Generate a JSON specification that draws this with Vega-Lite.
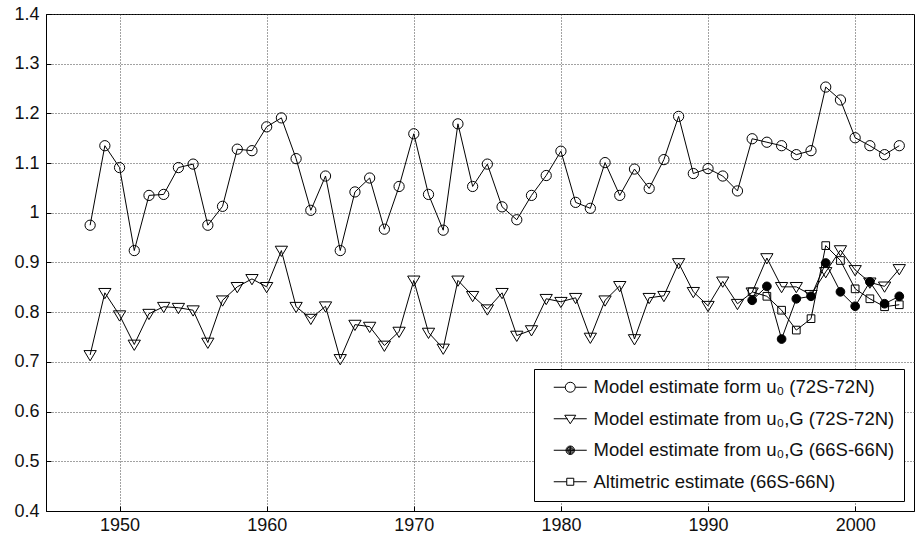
{
  "$schema": "https://vega.github.io/schema/vega-lite/v6.json",
  "width": 868,
  "height": 497,
  "autosize": {"type": "none"},
  "padding": {"left": 46, "top": 14, "right": 4, "bottom": 29},
  "background": "white",
  "config": {
    "font": "Liberation Sans",
    "view": {"stroke": "black", "strokeWidth": 1},
    "axis": {
      "domainColor": "black",
      "tickColor": "black",
      "labelColor": "#111",
      "labelFont": "Liberation Sans",
      "labelFontSize": 18,
      "gridColor": "#444",
      "gridDash": [1, 2],
      "gridWidth": 1,
      "title": null
    }
  },
  "data": {
    "values": [
      {"year": 1948, "v": 0.975, "s": "a"}, {"year": 1949, "v": 1.135, "s": "a"}, {"year": 1950, "v": 1.091, "s": "a"}, {"year": 1951, "v": 0.924, "s": "a"},
      {"year": 1952, "v": 1.035, "s": "a"}, {"year": 1953, "v": 1.037, "s": "a"}, {"year": 1954, "v": 1.091, "s": "a"}, {"year": 1955, "v": 1.098, "s": "a"},
      {"year": 1956, "v": 0.975, "s": "a"}, {"year": 1957, "v": 1.013, "s": "a"}, {"year": 1958, "v": 1.128, "s": "a"}, {"year": 1959, "v": 1.125, "s": "a"},
      {"year": 1960, "v": 1.173, "s": "a"}, {"year": 1961, "v": 1.191, "s": "a"}, {"year": 1962, "v": 1.109, "s": "a"}, {"year": 1963, "v": 1.005, "s": "a"},
      {"year": 1964, "v": 1.074, "s": "a"}, {"year": 1965, "v": 0.924, "s": "a"}, {"year": 1966, "v": 1.042, "s": "a"}, {"year": 1967, "v": 1.070, "s": "a"},
      {"year": 1968, "v": 0.967, "s": "a"}, {"year": 1969, "v": 1.053, "s": "a"}, {"year": 1970, "v": 1.159, "s": "a"}, {"year": 1971, "v": 1.037, "s": "a"},
      {"year": 1972, "v": 0.965, "s": "a"}, {"year": 1973, "v": 1.179, "s": "a"}, {"year": 1974, "v": 1.053, "s": "a"}, {"year": 1975, "v": 1.098, "s": "a"},
      {"year": 1976, "v": 1.012, "s": "a"}, {"year": 1977, "v": 0.986, "s": "a"}, {"year": 1978, "v": 1.035, "s": "a"}, {"year": 1979, "v": 1.075, "s": "a"},
      {"year": 1980, "v": 1.124, "s": "a"}, {"year": 1981, "v": 1.021, "s": "a"}, {"year": 1982, "v": 1.009, "s": "a"}, {"year": 1983, "v": 1.101, "s": "a"},
      {"year": 1984, "v": 1.035, "s": "a"}, {"year": 1985, "v": 1.088, "s": "a"}, {"year": 1986, "v": 1.049, "s": "a"}, {"year": 1987, "v": 1.107, "s": "a"},
      {"year": 1988, "v": 1.194, "s": "a"}, {"year": 1989, "v": 1.079, "s": "a"}, {"year": 1990, "v": 1.089, "s": "a"}, {"year": 1991, "v": 1.074, "s": "a"},
      {"year": 1992, "v": 1.044, "s": "a"}, {"year": 1993, "v": 1.149, "s": "a"}, {"year": 1994, "v": 1.142, "s": "a"}, {"year": 1995, "v": 1.135, "s": "a"},
      {"year": 1996, "v": 1.117, "s": "a"}, {"year": 1997, "v": 1.125, "s": "a"}, {"year": 1998, "v": 1.253, "s": "a"}, {"year": 1999, "v": 1.227, "s": "a"},
      {"year": 2000, "v": 1.151, "s": "a"}, {"year": 2001, "v": 1.135, "s": "a"}, {"year": 2002, "v": 1.117, "s": "a"}, {"year": 2003, "v": 1.135, "s": "a"},

      {"year": 1948, "v": 0.714, "s": "b"}, {"year": 1949, "v": 0.839, "s": "b"}, {"year": 1950, "v": 0.794, "s": "b"}, {"year": 1951, "v": 0.735, "s": "b"},
      {"year": 1952, "v": 0.797, "s": "b"}, {"year": 1953, "v": 0.811, "s": "b"}, {"year": 1954, "v": 0.809, "s": "b"}, {"year": 1955, "v": 0.804, "s": "b"},
      {"year": 1956, "v": 0.739, "s": "b"}, {"year": 1957, "v": 0.824, "s": "b"}, {"year": 1958, "v": 0.851, "s": "b"}, {"year": 1959, "v": 0.867, "s": "b"},
      {"year": 1960, "v": 0.851, "s": "b"}, {"year": 1961, "v": 0.924, "s": "b"}, {"year": 1962, "v": 0.811, "s": "b"}, {"year": 1963, "v": 0.787, "s": "b"},
      {"year": 1964, "v": 0.812, "s": "b"}, {"year": 1965, "v": 0.706, "s": "b"}, {"year": 1966, "v": 0.775, "s": "b"}, {"year": 1967, "v": 0.771, "s": "b"},
      {"year": 1968, "v": 0.733, "s": "b"}, {"year": 1969, "v": 0.761, "s": "b"}, {"year": 1970, "v": 0.864, "s": "b"}, {"year": 1971, "v": 0.759, "s": "b"},
      {"year": 1972, "v": 0.727, "s": "b"}, {"year": 1973, "v": 0.864, "s": "b"}, {"year": 1974, "v": 0.833, "s": "b"}, {"year": 1975, "v": 0.806, "s": "b"},
      {"year": 1976, "v": 0.839, "s": "b"}, {"year": 1977, "v": 0.753, "s": "b"}, {"year": 1978, "v": 0.764, "s": "b"}, {"year": 1979, "v": 0.827, "s": "b"},
      {"year": 1980, "v": 0.821, "s": "b"}, {"year": 1981, "v": 0.829, "s": "b"}, {"year": 1982, "v": 0.749, "s": "b"}, {"year": 1983, "v": 0.824, "s": "b"},
      {"year": 1984, "v": 0.853, "s": "b"}, {"year": 1985, "v": 0.746, "s": "b"}, {"year": 1986, "v": 0.829, "s": "b"}, {"year": 1987, "v": 0.833, "s": "b"},
      {"year": 1988, "v": 0.899, "s": "b"}, {"year": 1989, "v": 0.841, "s": "b"}, {"year": 1990, "v": 0.813, "s": "b"}, {"year": 1991, "v": 0.862, "s": "b"},
      {"year": 1992, "v": 0.817, "s": "b"}, {"year": 1993, "v": 0.840, "s": "b"}, {"year": 1994, "v": 0.909, "s": "b"}, {"year": 1995, "v": 0.851, "s": "b"},
      {"year": 1996, "v": 0.851, "s": "b"}, {"year": 1997, "v": 0.835, "s": "b"}, {"year": 1998, "v": 0.881, "s": "b"}, {"year": 1999, "v": 0.925, "s": "b"},
      {"year": 2000, "v": 0.885, "s": "b"}, {"year": 2001, "v": 0.860, "s": "b"}, {"year": 2002, "v": 0.852, "s": "b"}, {"year": 2003, "v": 0.887, "s": "b"},

      {"year": 1993, "v": 0.824, "s": "c"}, {"year": 1994, "v": 0.852, "s": "c"}, {"year": 1995, "v": 0.746, "s": "c"}, {"year": 1996, "v": 0.827, "s": "c"},
      {"year": 1997, "v": 0.832, "s": "c"}, {"year": 1998, "v": 0.899, "s": "c"}, {"year": 1999, "v": 0.841, "s": "c"}, {"year": 2000, "v": 0.812, "s": "c"},
      {"year": 2001, "v": 0.861, "s": "c"}, {"year": 2002, "v": 0.817, "s": "c"}, {"year": 2003, "v": 0.832, "s": "c"},

      {"year": 1993, "v": 0.841, "s": "d"}, {"year": 1994, "v": 0.832, "s": "d"}, {"year": 1995, "v": 0.804, "s": "d"}, {"year": 1996, "v": 0.764, "s": "d"},
      {"year": 1997, "v": 0.787, "s": "d"}, {"year": 1998, "v": 0.934, "s": "d"}, {"year": 1999, "v": 0.904, "s": "d"}, {"year": 2000, "v": 0.847, "s": "d"},
      {"year": 2001, "v": 0.827, "s": "d"}, {"year": 2002, "v": 0.811, "s": "d"}, {"year": 2003, "v": 0.815, "s": "d"}
    ]
  },
  "encoding": {
    "x": {
      "field": "year",
      "type": "quantitative",
      "scale": {"domain": [1945, 2004], "nice": false, "zero": false},
      "axis": {
        "values": [1950, 1960, 1970, 1980, 1990, 2000],
        "format": "d",
        "tickSize": -5,
        "labelPadding": 10,
        "grid": true
      }
    },
    "y": {
      "field": "v",
      "type": "quantitative",
      "scale": {"domain": [0.4, 1.4], "nice": false, "zero": false},
      "axis": {
        "values": [0.4, 0.5, 0.6, 0.7, 0.8, 0.9, 1, 1.1, 1.2, 1.3, 1.4],
        "format": "~g",
        "tickSize": -5,
        "labelPadding": 12,
        "grid": true
      }
    }
  },
  "layer": [
    {
      "mark": {"type": "line", "color": "black", "strokeWidth": 1},
      "encoding": {"detail": {"field": "s"}}
    },
    {
      "mark": {"type": "point", "filled": true, "stroke": "black", "strokeWidth": 1, "size": 105, "opacity": 1},
      "encoding": {
        "shape": {
          "field": "s",
          "type": "nominal",
          "scale": {
            "domain": ["a", "b", "c", "d"],
            "range": [
              "circle",
              "M-1.2,-0.85L1.2,-0.85L0,1.15Z",
              "M-0.85,0A0.85,0.85 0 1,1 0.85,0A0.85,0.85 0 1,1 -0.85,0Z",
              "M-0.75,-0.75H0.75V0.75H-0.75Z"
            ]
          },
          "legend": null
        },
        "fill": {
          "field": "s",
          "type": "nominal",
          "scale": {"domain": ["a", "b", "c", "d"], "range": ["transparent", "transparent", "black", "transparent"]},
          "legend": null
        }
      }
    },
    {
      "transform": [{"filter": "datum.year < 0"}],
      "mark": {"type": "point", "filled": false, "color": "black", "strokeWidth": 1, "size": 100, "opacity": 1},
      "encoding": {
        "shape": {
          "field": "s",
          "type": "nominal",
          "scale": {
            "domain": ["a", "b", "c", "d"],
            "range": [
              "M-3.3,0H-1M1,0H3.3M-1,0A1,1 0 1,1 1,0A1,1 0 1,1 -1,0Z",
              "M-3.3,0H-0.55M0.55,0H3.3M-1.1,-0.7L1.1,-0.7L0,1Z",
              "M-3.3,0H3.3M-0.85,0A0.85,0.85 0 1,1 0.85,0A0.85,0.85 0 1,1 -0.85,0M-0.65,0A0.65,0.65 0 1,1 0.65,0A0.65,0.65 0 1,1 -0.65,0M-0.45,0A0.45,0.45 0 1,1 0.45,0A0.45,0.45 0 1,1 -0.45,0M-0.25,0A0.25,0.25 0 1,1 0.25,0A0.25,0.25 0 1,1 -0.25,0M0,-0.85V0.85",
              "M-3.3,0H-0.7M0.7,0H3.3M-0.7,-0.7H0.7V0.7H-0.7Z"
            ]
          },
          "legend": {
            "title": null,
            "orient": "none",
            "legendX": 488,
            "legendY": 355,
            "padding": 9,
            "fillColor": "white",
            "strokeColor": "black",
            "cornerRadius": 0,
            "symbolSize": 100,
            "symbolOffset": 18,
            "symbolStrokeWidth": 1,
            "symbolStrokeColor": "black",
            "labelOffset": 14,
            "labelFont": "Liberation Sans",
            "labelFontSize": 18.5,
            "labelColor": "#111",
            "rowPadding": 12.5,
            "labelLimit": 500,
            "labelExpr": "['Model estimate form u₀ (72S-72N)', 'Model estimate from u₀,G (72S-72N)', 'Model estimate from u₀,G (66S-66N)', 'Altimetric estimate (66S-66N)'][indexof(['a','b','c','d'], datum.value)]"
          }
        }
      }
    }
  ],
  "resolve": {"scale": {"shape": "independent", "fill": "independent"}}
}
